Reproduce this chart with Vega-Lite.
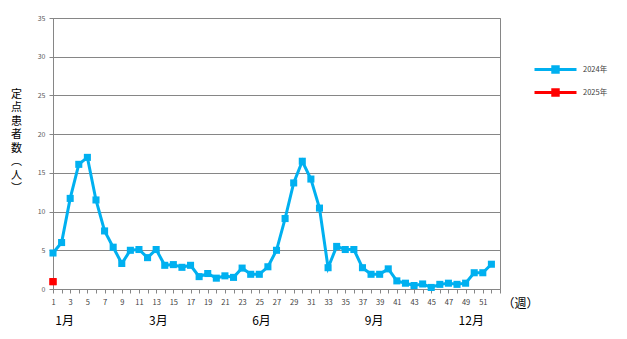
{
  "$schema": "https://vega.github.io/schema/vega-lite/v6.json",
  "width": 447,
  "height": 271,
  "autosize": {"type": "none"},
  "padding": {"left": 53, "top": 18, "right": 127, "bottom": 50},
  "background": "white",
  "config": {"view": {"stroke": "#868686", "strokeWidth": 1}, "font": "Noto Sans CJK JP"},
  "data": {"values": [
    {"week": 1, "value": 4.65, "year": "2024年"},
    {"week": 2, "value": 6.0, "year": "2024年"},
    {"week": 3, "value": 11.7, "year": "2024年"},
    {"week": 4, "value": 16.1, "year": "2024年"},
    {"week": 5, "value": 17.0, "year": "2024年"},
    {"week": 6, "value": 11.5, "year": "2024年"},
    {"week": 7, "value": 7.5, "year": "2024年"},
    {"week": 8, "value": 5.4, "year": "2024年"},
    {"week": 9, "value": 3.3, "year": "2024年"},
    {"week": 10, "value": 5.0, "year": "2024年"},
    {"week": 11, "value": 5.1, "year": "2024年"},
    {"week": 12, "value": 4.05, "year": "2024年"},
    {"week": 13, "value": 5.1, "year": "2024年"},
    {"week": 14, "value": 3.06, "year": "2024年"},
    {"week": 15, "value": 3.15, "year": "2024年"},
    {"week": 16, "value": 2.8, "year": "2024年"},
    {"week": 17, "value": 3.06, "year": "2024年"},
    {"week": 18, "value": 1.6, "year": "2024年"},
    {"week": 19, "value": 2.0, "year": "2024年"},
    {"week": 20, "value": 1.4, "year": "2024年"},
    {"week": 21, "value": 1.7, "year": "2024年"},
    {"week": 22, "value": 1.5, "year": "2024年"},
    {"week": 23, "value": 2.7, "year": "2024年"},
    {"week": 24, "value": 1.9, "year": "2024年"},
    {"week": 25, "value": 1.9, "year": "2024年"},
    {"week": 26, "value": 2.87, "year": "2024年"},
    {"week": 27, "value": 5.0, "year": "2024年"},
    {"week": 28, "value": 9.1, "year": "2024年"},
    {"week": 29, "value": 13.7, "year": "2024年"},
    {"week": 30, "value": 16.5, "year": "2024年"},
    {"week": 31, "value": 14.2, "year": "2024年"},
    {"week": 32, "value": 10.45, "year": "2024年"},
    {"week": 33, "value": 2.75, "year": "2024年"},
    {"week": 34, "value": 5.5, "year": "2024年"},
    {"week": 35, "value": 5.1, "year": "2024年"},
    {"week": 36, "value": 5.1, "year": "2024年"},
    {"week": 37, "value": 2.75, "year": "2024年"},
    {"week": 38, "value": 1.9, "year": "2024年"},
    {"week": 39, "value": 1.9, "year": "2024年"},
    {"week": 40, "value": 2.6, "year": "2024年"},
    {"week": 41, "value": 1.05, "year": "2024年"},
    {"week": 42, "value": 0.75, "year": "2024年"},
    {"week": 43, "value": 0.45, "year": "2024年"},
    {"week": 44, "value": 0.65, "year": "2024年"},
    {"week": 45, "value": 0.2, "year": "2024年"},
    {"week": 46, "value": 0.6, "year": "2024年"},
    {"week": 47, "value": 0.75, "year": "2024年"},
    {"week": 48, "value": 0.6, "year": "2024年"},
    {"week": 49, "value": 0.75, "year": "2024年"},
    {"week": 50, "value": 2.1, "year": "2024年"},
    {"week": 51, "value": 2.1, "year": "2024年"},
    {"week": 52, "value": 3.2, "year": "2024年"},
    {"week": 1, "value": 0.95, "year": "2025年"}
  ]},
  "encoding": {
    "y": {
      "field": "value", "type": "quantitative",
      "scale": {"domain": [0, 35], "nice": false},
      "axis": {
        "values": [0, 5, 10, 15, 20, 25, 30, 35],
        "grid": true, "gridColor": "#868686", "gridWidth": 1,
        "domainColor": "#868686", "tickColor": "#868686", "tickSize": 4,
        "labelFontSize": 7, "labelColor": "#595959", "labelPadding": 4,
        "title": ["定", "点", "患", "者", "数", "︵", "人", "︶"],
        "titleAngle": 0, "titleX": -37, "titleY": 70, "titleBaseline": "top",
        "titleAlign": "center", "titleLineHeight": 13.5, "titleFontSize": 11,
        "titleFontWeight": "normal", "titleColor": "black"
      }
    },
    "color": {
      "field": "year", "type": "nominal",
      "scale": {"domain": ["2024年", "2025年"], "range": ["#00B0F0", "#FF0000"]},
      "legend": {
        "title": null, "orient": "none", "legendX": 480, "legendY": 40,
        "symbolType": "M-1,0H1M-0.13,-0.13H0.13V0.13H-0.13Z",
        "symbolSize": 1764, "symbolStrokeWidth": 3, "clipHeight": 23,
        "labelFontSize": 7.5, "labelColor": "#404040", "labelOffset": 5,
        "padding": 0, "rowPadding": 0,
        "encode": {"symbols": {"update": {
          "fill": {"scale": "color", "field": "value"},
          "stroke": {"scale": "color", "field": "value"},
          "opacity": {"value": 1}
        }}}
      }
    }
  },
  "layer": [
    {
      "mark": {"type": "line", "strokeWidth": 3, "point": {"shape": "square", "size": 50, "filled": true, "opacity": 1}},
      "encoding": {
        "x": {
          "field": "week", "type": "quantitative",
          "scale": {"domain": [1, 53], "nice": false, "zero": false},
          "axis": {
            "values": [1,2,3,4,5,6,7,8,9,10,11,12,13,14,15,16,17,18,19,20,21,22,23,24,25,26,27,28,29,30,31,32,33,34,35,36,37,38,39,40,41,42,43,44,45,46,47,48,49,50,51,52,53],
            "labelExpr": "datum.value % 2 == 1 && datum.value <= 51 ? datum.label : ''",
            "labelFontSize": 7.5, "labelColor": "#404040", "labelPadding": 5,
            "labelFlush": false, "labelOverlap": false, "labelBound": false,
            "tickColor": "#868686", "domainColor": "#868686", "tickSize": 4, "grid": false,
            "title": "（週）", "titleX": 449, "titleY": 14, "titleAlign": "left",
            "titleBaseline": "middle", "titleFontSize": 12, "titleFontWeight": "normal",
            "titleColor": "black"
          }
        }
      }
    },
    {
      "transform": [{"filter": "datum.year == '2025年'"}],
      "mark": {"type": "point", "shape": "square", "size": 50, "filled": true, "opacity": 1},
      "encoding": {
        "x": {
          "field": "week", "type": "quantitative",
          "axis": {
            "orient": "bottom", "offset": 26,
            "values": [2.3, 13.2, 25.2, 38.3, 49.6],
            "labelExpr": "datum.value < 5 ? '1月' : datum.value < 20 ? '3月' : datum.value < 30 ? '6月' : datum.value < 45 ? '9月' : '12月'",
            "domain": false, "ticks": false, "grid": false,
            "labelPadding": 0, "labelFontSize": 12, "labelColor": "black",
            "labelFlush": false, "labelOverlap": false, "title": null
          }
        }
      }
    }
  ],
  "resolve": {"axis": {"x": "independent"}}
}
